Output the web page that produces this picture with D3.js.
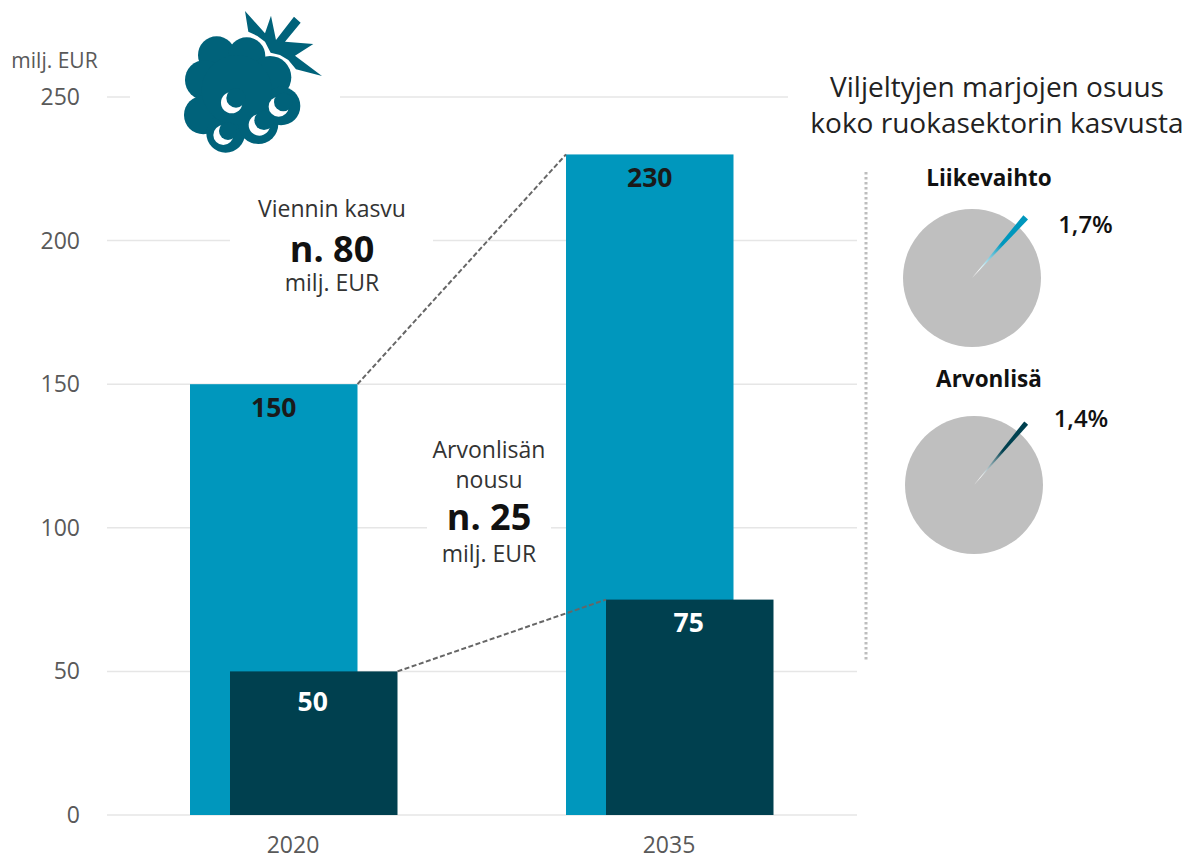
<!DOCTYPE html>
<html><head><meta charset="utf-8">
<script src="https://cdn.jsdelivr.net/npm/d3@7"></script>
<style>html,body{margin:0;background:#fff}svg{display:block}text{font-family:"Open Sans",sans-serif}</style>
</head><body><svg id="c" width="1185" height="860"></svg>
<script>
const years=["2020","2035"];
const exportValues=[150,230];
const valueAdded=[50,75];
const yTicks=[0,50,100,150,200,250];
const pieTitles=["Liikevaihto","Arvonlisä"];
const pieShares=[1.7,1.4];
const pieLabels=["1,7%","1,4%"];
const pieColors=["#0097bd","#00404f"];
const LIGHT="#0097bd",DARK="#00404f",GRID="#e6e6e6",AX="#595959",ICON="#00627a";

const svg=d3.select("#c");
const y=d3.scaleLinear().domain([0,250]).range([815,97]);
const barW=167.5;
const lightX=d3.scaleOrdinal().domain(years).range([190,566]);
const darkX=d3.scaleOrdinal().domain(years).range([230,606]);

// grid with interruptions around annotations
const gridGaps={0:[],50:[],100:[[357,427],[551,566]],150:[],200:[[230,433]],250:[[130,340],[788,857]]};
yTicks.forEach(t=>{
  let s=107;const segs=[];
  if(t===100){segs.push([107,190],[357,427],[551,566],[733,857]);}
  else{
    gridGaps[t].forEach(g=>{segs.push([s,g[0]]);s=g[1];});
    if(s<857)segs.push([s,857]);
  }
  segs.forEach(g=>svg.append("line").attr("x1",g[0]).attr("x2",g[1]).attr("y1",y(t)).attr("y2",y(t)).attr("stroke",GRID).attr("stroke-width",1.5));
});
svg.selectAll(".yl").data(yTicks).join("text").attr("x",80).attr("y",d=>y(d)+8).attr("text-anchor","end")
  .attr("font-size",23).attr("fill",AX).text(d=>d);
svg.append("text").attr("x",54.5).attr("y",68).attr("text-anchor","middle").attr("font-size",21).attr("fill",AX).text("milj. EUR");

// bars
svg.selectAll(".l").data(years).join("rect").attr("x",d=>lightX(d)).attr("width",barW)
  .attr("y",(d,i)=>y(exportValues[i])).attr("height",(d,i)=>y(0)-y(exportValues[i])).attr("fill",LIGHT);
svg.selectAll(".d").data(years).join("rect").attr("x",d=>darkX(d)).attr("width",barW)
  .attr("y",(d,i)=>y(valueAdded[i])).attr("height",(d,i)=>y(0)-y(valueAdded[i])).attr("fill",DARK);
// connectors
[[lightX,exportValues],[darkX,valueAdded]].forEach(([sx,v])=>{
  svg.append("line").attr("x1",sx(years[0])+barW).attr("y1",y(v[0])).attr("x2",sx(years[1])).attr("y2",y(v[1]))
    .attr("stroke","#666").attr("stroke-width",2).attr("stroke-dasharray","5 2.5");
});
// bar labels
svg.selectAll(".lv").data(years).join("text").attr("x",d=>lightX(d)+barW/2-(d==="2020"?0:-0)).attr("y",(d,i)=>y(exportValues[i])+33)
  .attr("text-anchor","middle").attr("font-size",26.5).attr("font-weight",700).attr("fill","#1a1a1a").text((d,i)=>exportValues[i]);
svg.selectAll(".dv").data(years).join("text").attr("x",d=>darkX(d)+barW/2-1).attr("y",(d,i)=>y(valueAdded[i])+[40,32][i])
  .attr("text-anchor","middle").attr("font-size",26.5).attr("font-weight",700).attr("fill","#fff").text((d,i)=>valueAdded[i]);
svg.selectAll(".xl").data(years).join("text").attr("x",(d,i)=>[293,669][i]).attr("y",853)
  .attr("text-anchor","middle").attr("font-size",23).attr("fill",AX).text(d=>d);

// annotations
const T=(x,yy,s,fs,w,f)=>svg.append("text").attr("x",x).attr("y",yy).attr("text-anchor","middle").attr("font-size",fs).attr("font-weight",w||400).attr("fill",f||"#333").text(s);
T(332,217,"Viennin kasvu",23);
T(332,262,"n. 80",36,700,"#111");
T(332,291,"milj. EUR",23);
T(489,458,"Arvonlisän",23);
T(489,488,"nousu",23);
T(489,530,"n. 25",36,700,"#111");
T(489,562,"milj. EUR",23);
T(997,97,"Viljeltyjen marjojen osuus",28,400,"#222");
T(997,133,"koko ruokasektorin kasvusta",28,400,"#222");

// dotted separator
svg.append("line").attr("x1",866).attr("x2",866).attr("y1",172).attr("y2",661).attr("stroke","#bdbdbd").attr("stroke-width",3).attr("stroke-dasharray","2.5 2.5");

// pies
const defs=svg.append("defs");
const pieCx=[972,974],pieCy=[278,485],pieR=[69,69],pieMid=[0.725,0.70];
const pieTitleX=[989,989],pieTitleY=[186,387],pieLX=[1085.5,1081],pieLY=[233,427];
pieShares.forEach((p,i)=>{
  const g=svg.append("g").attr("transform",`translate(${pieCx[i]},${pieCy[i]})`);
  g.append("circle").attr("r",pieR[i]).attr("fill","#bfbfbf");
  const grad=defs.append("radialGradient").attr("id","g"+i).attr("gradientUnits","userSpaceOnUse").attr("cx",0).attr("cy",0).attr("r",82);
  grad.append("stop").attr("offset",0).attr("stop-color","#fff");
  grad.append("stop").attr("offset",.12).attr("stop-color","#fff");
  grad.append("stop").attr("offset",.55).attr("stop-color",pieColors[i]);
  grad.append("stop").attr("offset",1).attr("stop-color",pieColors[i]);
  const sweep=p/100*2*Math.PI*0.72;
  g.append("path").attr("d",d3.arc().innerRadius(0).outerRadius(pieR[i]+12)({startAngle:pieMid[i]-sweep/2,endAngle:pieMid[i]+sweep/2})).attr("fill",`url(#g${i})`);
  T(pieTitleX[i],pieTitleY[i],pieTitles[i],22.5,700,"#111");
  T(pieLX[i],pieLY[i],pieLabels[i],24,600,"#111");
});

// berry icon (drawn in zoomed reference units)
const ic=svg.append("g").attr("fill",ICON).attr("transform","translate(170,0) scale(0.3333)");
[[140,165,56],[230,168,56],[300,232,64],[105,240,60],[100,345,58],[167,400,58],[265,372,60],[333,318,58],[200,270,105]].forEach(c=>ic.append("circle").attr("cx",c[0]).attr("cy",c[1]).attr("r",c[2]));
[[185,308,32,198,294,29],[326,320,30,340,306,28],[268,375,32,282,361,29],[160,405,30,174,393,27]].forEach(c=>{
  ic.append("circle").attr("cx",c[0]).attr("cy",c[1]).attr("r",c[2]).attr("fill","#fff");
  ic.append("circle").attr("cx",c[3]).attr("cy",c[4]).attr("r",c[5]).attr("fill",ICON);
});
ic.append("path").attr("d","M225,33L285,100L303,47L318,120L372,50L392,68L345,125L430,132L375,167L456,228L378,208L355,180L330,165L302,158L285,125L262,108L235,95Z");
</script></body></html>
